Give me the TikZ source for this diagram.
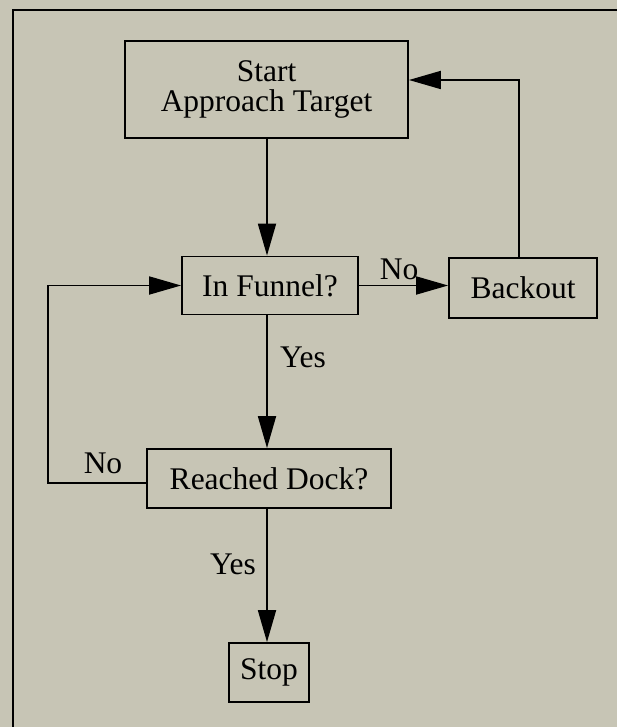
\documentclass[tikz,border=0pt]{standalone}
\usepackage{fontspec}
\setmainfont{Liberation Serif}
\usetikzlibrary{arrows.meta}
\definecolor{paper}{RGB}{199,197,181}
\begin{document}
\begin{tikzpicture}[x=1pt,y=-1pt,
  every node/.style={font=\fontsize{31.5}{30}\selectfont, inner sep=0pt},
  box/.style={draw, line width=1.8pt, align=center},
  arr/.style={line width=1.8pt, -{Triangle[length=32pt,width=18pt]}},
  lbl/.style={}]
  % paper and frame
  \fill[paper] (0,0) rectangle (617,727);
  \useasboundingbox (0,0) rectangle (617,727);
  \draw[line width=2pt] (617,10) -- (13,10) -- (13,727);

  % boxes
  \node[box, minimum width=283pt, minimum height=97pt] (start) at (266.5,89.5) {Start\\Approach Target};
  \node[box, minimum width=176pt, minimum height=58pt] (funnel) at (270,285.5) {In Funnel?};
  \node[box, minimum width=148pt, minimum height=60pt] (backout) at (523,288) {Backout};
  \node[box, minimum width=244pt, minimum height=59pt] (dock) at (269,478.5) {Reached Dock?};
  \node[box, minimum width=80pt, minimum height=59pt] (stop) at (269,672.5) {Stop};

  % routing points
  \coordinate (col) at (267,0);
  \coordinate (loop) at (48,0);
  \coordinate (bk) at (519,80);

  % connectors
  \draw[arr] (start.south -| col) -- (funnel.north -| col);
  \draw[arr] (funnel.south -| col) -- (dock.north -| col);
  \draw[arr] (dock.south -| col) -- (stop.north -| col);
  \draw[arr] (funnel.east) -- (funnel.east -| backout.west);
  \draw[arr] (backout.north -| bk) -- (bk) -- (bk -| start.east);
  \draw[arr] ([yshift=-4.5pt]dock.west) -- ([yshift=-4.5pt]dock.west -| loop)
     -- (funnel.west -| loop) -- (funnel.west);

  % branch labels
  \node[lbl] (noA) at (399,269) {No};
  \node[lbl] (yesA) at (303,357) {Yes};
  \node[lbl] (noB) at (103,463) {No};
  \node[lbl] (yesB) at (233,564) {Yes};
\end{tikzpicture}
\end{document}
